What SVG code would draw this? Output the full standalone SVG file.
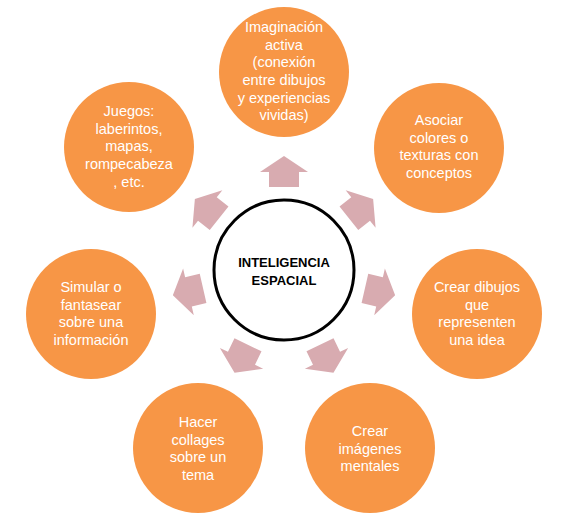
<svg xmlns="http://www.w3.org/2000/svg" width="568" height="518" viewBox="0 0 568 518">
<style>
.n{fill:#F79646}
.t{fill:#FFFFFF;font-family:"Liberation Sans",Arial,sans-serif;font-size:14.5px;text-anchor:middle}
.c{fill:#000;font-family:"Liberation Sans",Arial,sans-serif;font-size:13px;font-weight:bold;text-anchor:middle}
.a{fill:#D8ABB0}
</style>
<defs>
<path id="arr" d="M269,187 L269,172 L260,172 L284,156 L308,172 L299,172 L299,187 Z"/>
</defs>
<rect width="568" height="518" fill="#FFFFFF"/>
<g id="connectors">
<use href="#arr" class="a"/>
<use href="#arr" class="a" transform="rotate(51.43 284 270)"/>
<use href="#arr" class="a" transform="rotate(102.86 284 270)"/>
<use href="#arr" class="a" transform="rotate(154.29 284 270)"/>
<use href="#arr" class="a" transform="rotate(205.71 284 270)"/>
<use href="#arr" class="a" transform="rotate(257.14 284 270)"/>
<use href="#arr" class="a" transform="rotate(308.57 284 270)"/>
</g>
<g id="center">
<circle cx="284" cy="270" r="70" fill="#FFFFFF" stroke="#000" stroke-width="3"/>
<text class="c" x="284" y="267">INTELIGENCIA</text>
<text class="c" x="284" y="285">ESPACIAL</text>
</g>
<g id="n1">
<circle class="n" cx="284" cy="72" r="65"/>
<text class="t" x="284" y="32">Imaginación</text>
<text class="t" x="284" y="50">activa</text>
<text class="t" x="284" y="67">(conexión</text>
<text class="t" x="284" y="85">entre dibujos</text>
<text class="t" x="284" y="103">y experiencias</text>
<text class="t" x="284" y="120">vividas)</text>
</g>
<g id="n2">
<circle class="n" cx="439" cy="148" r="65"/>
<text class="t" x="439" y="125">Asociar</text>
<text class="t" x="439" y="143">colores o</text>
<text class="t" x="439" y="160">texturas con</text>
<text class="t" x="439" y="178">conceptos</text>
</g>
<g id="n3">
<circle class="n" cx="477" cy="314" r="65"/>
<text class="t" x="477" y="292">Crear dibujos</text>
<text class="t" x="477" y="310">que</text>
<text class="t" x="477" y="327">representen</text>
<text class="t" x="477" y="345">una idea</text>
</g>
<g id="n4">
<circle class="n" cx="370" cy="448" r="65"/>
<text class="t" x="370" y="436">Crear</text>
<text class="t" x="370" y="454">imágenes</text>
<text class="t" x="370" y="471">mentales</text>
</g>
<g id="n5">
<circle class="n" cx="198" cy="448" r="65"/>
<text class="t" x="198" y="427">Hacer</text>
<text class="t" x="198" y="445">collages</text>
<text class="t" x="198" y="462">sobre un</text>
<text class="t" x="198" y="480">tema</text>
</g>
<g id="n6">
<circle class="n" cx="91" cy="314" r="65"/>
<text class="t" x="91" y="292">Simular o</text>
<text class="t" x="91" y="310">fantasear</text>
<text class="t" x="91" y="327">sobre una</text>
<text class="t" x="91" y="345">información</text>
</g>
<g id="n7">
<circle class="n" cx="129" cy="147" r="65"/>
<text class="t" x="129" y="116">Juegos:</text>
<text class="t" x="129" y="134">laberintos,</text>
<text class="t" x="129" y="151">mapas,</text>
<text class="t" x="129" y="169">rompecabeza</text>
<text class="t" x="129" y="187">, etc.</text>
</g>
</svg>
